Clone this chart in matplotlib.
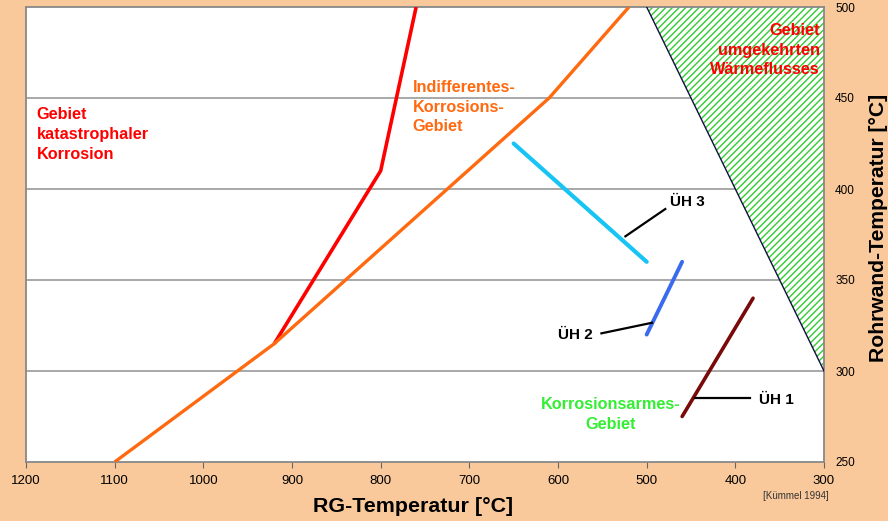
import matplotlib.pyplot as plt
from matplotlib.patches import Polygon

plt.rcParams['font.family'] = ['Liberation Sans', 'DejaVu Sans']
plt.rcParams['hatch.linewidth'] = 1.0

# Grenzlinien (RG-Temperatur, Rohrwand-Temperatur)
kat_x = [920, 800, 760]
kat_y = [315, 410, 500]
ind_x = [1100, 920, 610, 520]
ind_y = [250, 315, 450, 500]
waerme_x = [500, 300, 300]
waerme_y = [500, 500, 300]

# Ueberhitzer
uh3_x = [650, 500]
uh3_y = [425, 360]
uh2_x = [500, 460]
uh2_y = [320, 360]
uh1_x = [460, 380]
uh1_y = [275, 340]

x_ticks = [1200, 1100, 1000, 900, 800, 700, 600, 500, 400, 300]
y_ticks = [250, 300, 350, 400, 450, 500]

bg = '#F9C99B'
fig = plt.figure(figsize=(8.88, 5.21), dpi=100, facecolor=bg)
ax = fig.add_axes([26/888, 59/521, 798/888, 455/521])
ax.set_facecolor('white')

ax.set_xlim(1200, 300)
ax.set_ylim(250, 500)

for y in y_ticks[1:-1]:
    ax.axhline(y, color='#999999', lw=1.2, zorder=1)

poly = Polygon(list(zip(waerme_x, waerme_y)), closed=True, facecolor='white',
               edgecolor='#33CC33', hatch='/////', lw=0, zorder=2)
ax.add_patch(poly)
ax.plot([waerme_x[0], waerme_x[2]], [waerme_y[0], waerme_y[2]], color='#101040', lw=1.0, zorder=3)

ax.plot(kat_x, kat_y, color='#FF0000', lw=2.6, zorder=4, solid_capstyle='butt')
ax.plot(ind_x, ind_y, color='#FF6A10', lw=2.4, zorder=4, solid_capstyle='butt')
ax.plot(uh3_x, uh3_y, color='#18C4F4', lw=3, zorder=4, solid_capstyle='round')
ax.plot(uh2_x, uh2_y, color='#3A6BEF', lw=2.8, zorder=4, solid_capstyle='round')
ax.plot(uh1_x, uh1_y, color='#7A0A0A', lw=2.6, zorder=4, solid_capstyle='round')

# Beschriftung der Ueberhitzer
ax.plot([524, 479], [374, 389], color='black', lw=1.6, zorder=5)
ax.text(474, 393, 'ÜH 3', fontsize=11, fontweight='bold', va='center', ha='left')
ax.plot([551, 494], [320.7, 326.5], color='black', lw=1.6, zorder=5)
ax.text(561, 320, 'ÜH 2', fontsize=11, fontweight='bold', va='center', ha='right')
ax.plot([446, 384], [285, 285], color='black', lw=1.6, zorder=5)
ax.text(373, 284, 'ÜH 1', fontsize=11, fontweight='bold', va='center', ha='left')

ax.text(1188, 445, 'Gebiet\nkatastrophaler\nKorrosion', color='#FF0000', fontsize=11.7,
        fontweight='bold', va='top', ha='left', linespacing=1.4)
ax.text(764, 460, 'Indifferentes-\nKorrosions-\nGebiet', color='#FF6A10', fontsize=11.7,
        fontweight='bold', va='top', ha='left', linespacing=1.4)
ax.text(305, 491, 'Gebiet\numgekehrten\nWärmeflusses', color='#FF0000', fontsize=11.7,
        fontweight='bold', va='top', ha='right', linespacing=1.35, zorder=6)
ax.text(541, 276, 'Korrosionsarmes-\nGebiet', color='#33EE33', fontsize=11.7,
        fontweight='bold', va='center', ha='center', linespacing=1.4)

ax.set_xticks(x_ticks)
ax.set_xticklabels([str(t) for t in x_ticks], fontsize=9.5)
ax.tick_params(axis='x', direction='out', length=4, color='#666666', pad=5)
ax.yaxis.tick_right()
ax.set_yticks(y_ticks)
ax.set_yticklabels([str(t) for t in y_ticks], fontsize=8.5)
ax.tick_params(axis='y', length=0, pad=8)

for s in ax.spines.values():
    s.set_color('#888888')
    s.set_linewidth(1.3)

fig.text(413/888, 1 - 507/521, 'RG-Temperatur [°C]', fontsize=15.4, fontweight='bold',
         ha='center', va='center')
fig.text(878/888, 1 - 228/521, 'Rohrwand-Temperatur [°C]', fontsize=15.2, fontweight='bold',
         ha='center', va='center', rotation=90)
fig.text(796/888, 1 - 496/521, '[Kümmel 1994]', fontsize=7, ha='center', va='center',
         color='#333333')

fig.savefig('out.png', dpi=100, facecolor=bg)
